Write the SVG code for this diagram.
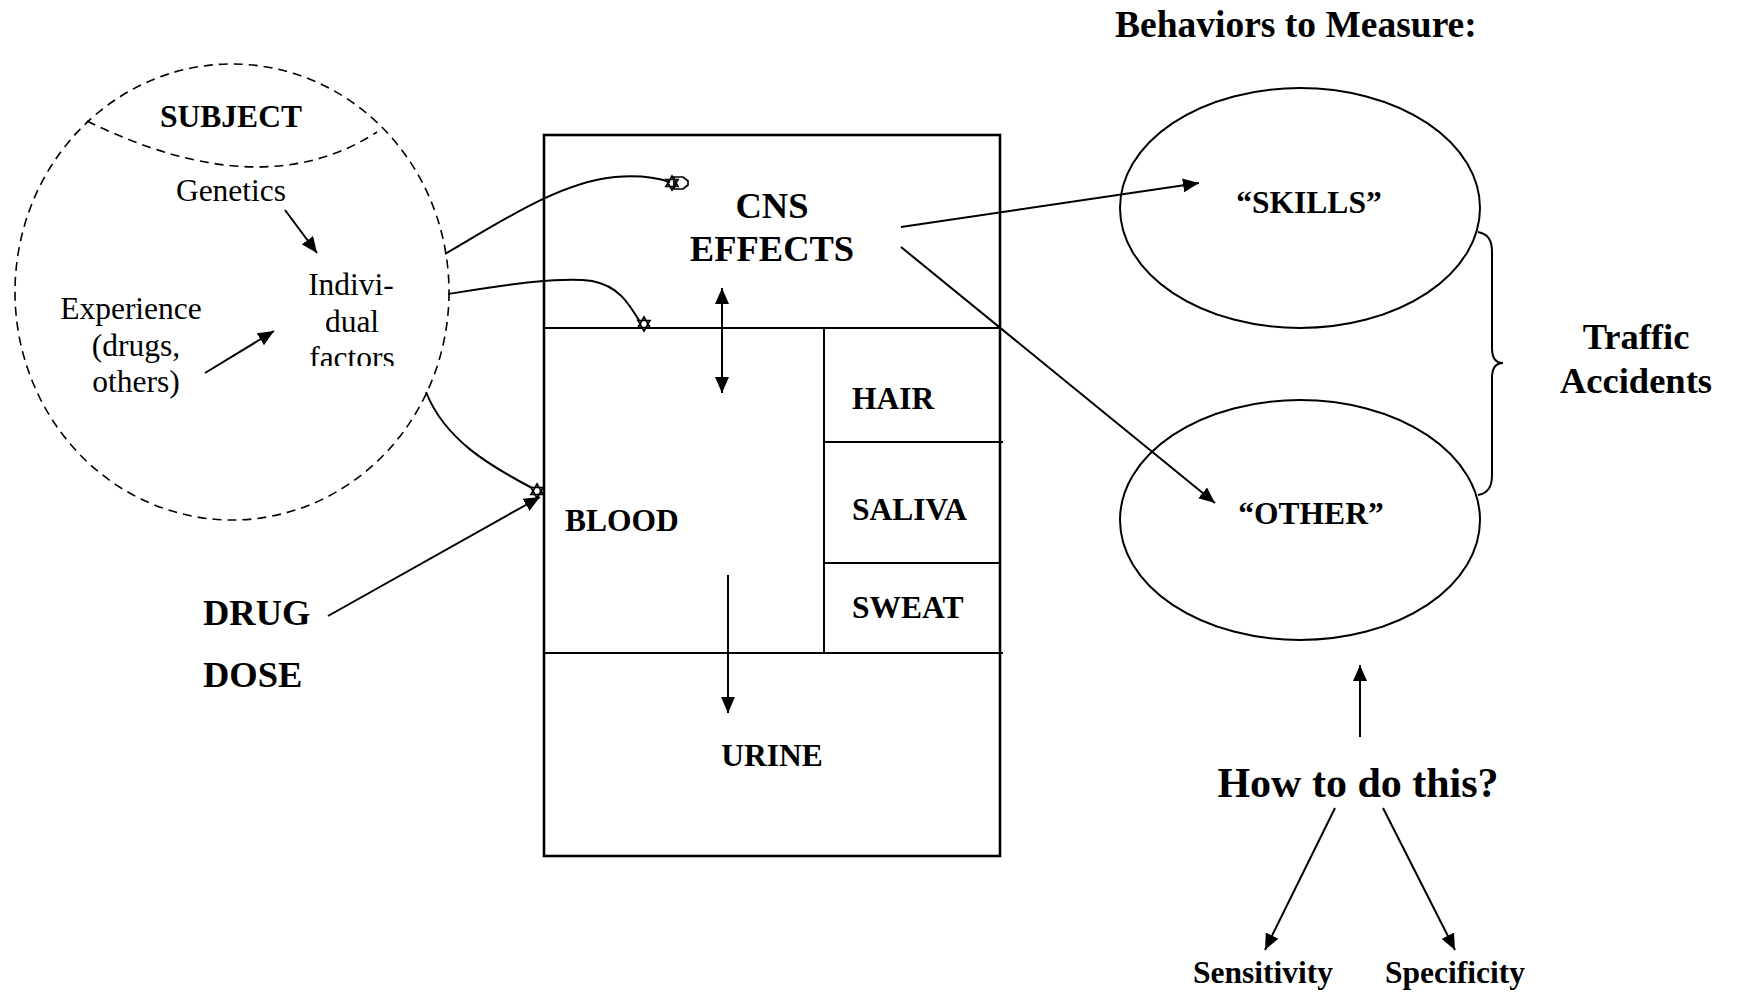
<svg xmlns="http://www.w3.org/2000/svg" xmlns:xlink="http://www.w3.org/1999/xlink" width="1738" height="997" viewBox="0 0 1738 997">
<style>
  .t { font-family: "Liberation Serif", "Times New Roman", serif; fill: #000; }
  .b { font-weight: bold; }
  .s31 { font-size: 31.5px; }
  .s36 { font-size: 36.5px; }
  .s42 { font-size: 42px; }
  .mid { text-anchor: middle; }
  .ln { fill: none; stroke: #000; stroke-width: 2; }
  .dash { fill: none; stroke: #000; stroke-width: 1.6; stroke-dasharray: 9 6; }
  .box { fill: none; stroke: #000; stroke-width: 2.6; }
  .arr { fill: none; stroke: #000; stroke-width: 2; marker-end: url(#ah); }
  .star { fill: #fff; stroke: #000; stroke-width: 1.7; }
</style>
<defs>
  <marker id="ah" viewBox="0 0 16 14" refX="16" refY="7" markerWidth="16" markerHeight="14" markerUnits="userSpaceOnUse" orient="auto-start-reverse">
    <path d="M0,0 L16,7 L0,14 Z" fill="#000"/>
  </marker>
  <path id="starShape" d="M0,-7 L6,3.5 L-6,3.5 Z M0,7 L6,-3.5 L-6,-3.5 Z"/>
  <clipPath id="clipFactors">
    <rect x="280" y="330" width="150" height="36"/>
  </clipPath>
</defs>
<rect width="1738" height="997" fill="#fff"/>

<g id="title">
  <text class="t b" style="font-size:37.5px" x="1115" y="37">Behaviors to Measure:</text>
</g>

<g id="subject">
  <ellipse class="dash" cx="232" cy="292" rx="217" ry="228"/>
  <path class="dash" d="M87,121 Q262,207 377,132"/>
  <text class="t b s31 mid" x="231" y="127">SUBJECT</text>
</g>
<g id="genetics">
  <text class="t s31 mid" x="231" y="201">Genetics</text>
</g>
<g id="experience">
  <text class="t s31 mid" x="131" y="319">Experience</text>
  <text class="t s31 mid" x="136" y="356">(drugs,</text>
  <text class="t s31 mid" x="136" y="392">others)</text>
</g>
<g id="individual-factors">
  <text class="t s31 mid" x="351" y="295">Indivi-</text>
  <text class="t s31 mid" x="352" y="332">dual</text>
  <text class="t s31 mid" x="352" y="368" clip-path="url(#clipFactors)">factors</text>
</g>

<g id="drug-dose">
  <text class="t b s36" x="203" y="625">DRUG</text>
  <text class="t b s36" x="203" y="687">DOSE</text>
</g>

<g id="body">
  <rect class="box" x="544" y="135" width="456" height="721"/>
  <line class="ln" x1="544" y1="328" x2="1000" y2="328"/>
  <line class="ln" x1="824" y1="328" x2="824" y2="653"/>
  <line class="ln" x1="824" y1="442" x2="1003" y2="442"/>
  <line class="ln" x1="824" y1="563" x2="1000" y2="563"/>
  <line class="ln" x1="544" y1="653" x2="1003" y2="653"/>
</g>
<g id="cns-effects">
  <text class="t b s36 mid" x="772" y="218">CNS</text>
  <text class="t b s36 mid" x="772" y="261">EFFECTS</text>
</g>
<g id="blood">
  <text class="t b s31" x="565" y="531">BLOOD</text>
</g>
<g id="hair">
  <text class="t b s31" x="852" y="409">HAIR</text>
</g>
<g id="saliva">
  <text class="t b s31" x="852" y="520">SALIVA</text>
</g>
<g id="sweat">
  <text class="t b s31" x="852" y="618">SWEAT</text>
</g>
<g id="urine">
  <text class="t b s31 mid" x="772" y="766">URINE</text>
</g>

<g id="skills">
  <ellipse class="ln" cx="1300" cy="208" rx="180" ry="120"/>
  <text class="t b s31 mid" x="1309" y="213">“SKILLS”</text>
</g>
<g id="other">
  <ellipse class="ln" cx="1300" cy="520" rx="180" ry="120"/>
  <text class="t b s31 mid" x="1311" y="524">“OTHER”</text>
</g>
<g id="traffic-accidents">
  <path class="ln" d="M1478,232 C1488,234 1492,240 1492,252 L1492,348 C1492,358 1496,363 1503,363 C1496,363 1492,368 1492,378 L1492,475 C1492,487 1488,493 1478,495"/>
  <text class="t b s36 mid" x="1636" y="349">Traffic</text>
  <text class="t b s36 mid" x="1636" y="393">Accidents</text>
</g>

<g id="how-to">
  <text class="t b s42 mid" x="1358" y="797">How to do this?</text>
</g>
<g id="sensitivity">
  <text class="t b s31 mid" x="1263" y="983">Sensitivity</text>
</g>
<g id="specificity">
  <text class="t b s31 mid" x="1455" y="983">Specificity</text>
</g>

<g id="connectors">
  <line class="arr" x1="285" y1="210" x2="317" y2="253"/>
  <line class="arr" x1="205" y1="373" x2="274" y2="331"/>
  <path class="ln" d="M445,254 C500,222 560,182 615,177 C640,175 658,178 670,182"/>
  <path class="ln" d="M448,294 C500,286 560,276 592,281 C618,286 628,302 640,322"/>
  <path class="ln" d="M426,392 C445,440 490,466 534,489"/>
  <line class="arr" x1="328" y1="616" x2="540" y2="497"/>
  <line class="arr" x1="722" y1="288" x2="722" y2="393" style="marker-start:url(#ah)"/>
  <line class="arr" x1="728" y1="575" x2="728" y2="713"/>
  <line class="arr" x1="901" y1="227" x2="1199" y2="183"/>
  <line class="arr" x1="901" y1="247" x2="1215" y2="503"/>
  <line class="arr" x1="1360" y1="737" x2="1360" y2="665"/>
  <line class="arr" x1="1335" y1="808" x2="1265" y2="950"/>
  <line class="arr" x1="1383" y1="808" x2="1455" y2="950"/>
  <path class="star" d="M674,177 L683,177 L688,181 L688,185 L683,189 L674,189 Z"/>
  <use xlink:href="#starShape" class="star" x="672" y="183"/>
  <use xlink:href="#starShape" class="star" x="644" y="324"/>
  <use xlink:href="#starShape" class="star" x="537" y="491"/>
</g>
</svg>
